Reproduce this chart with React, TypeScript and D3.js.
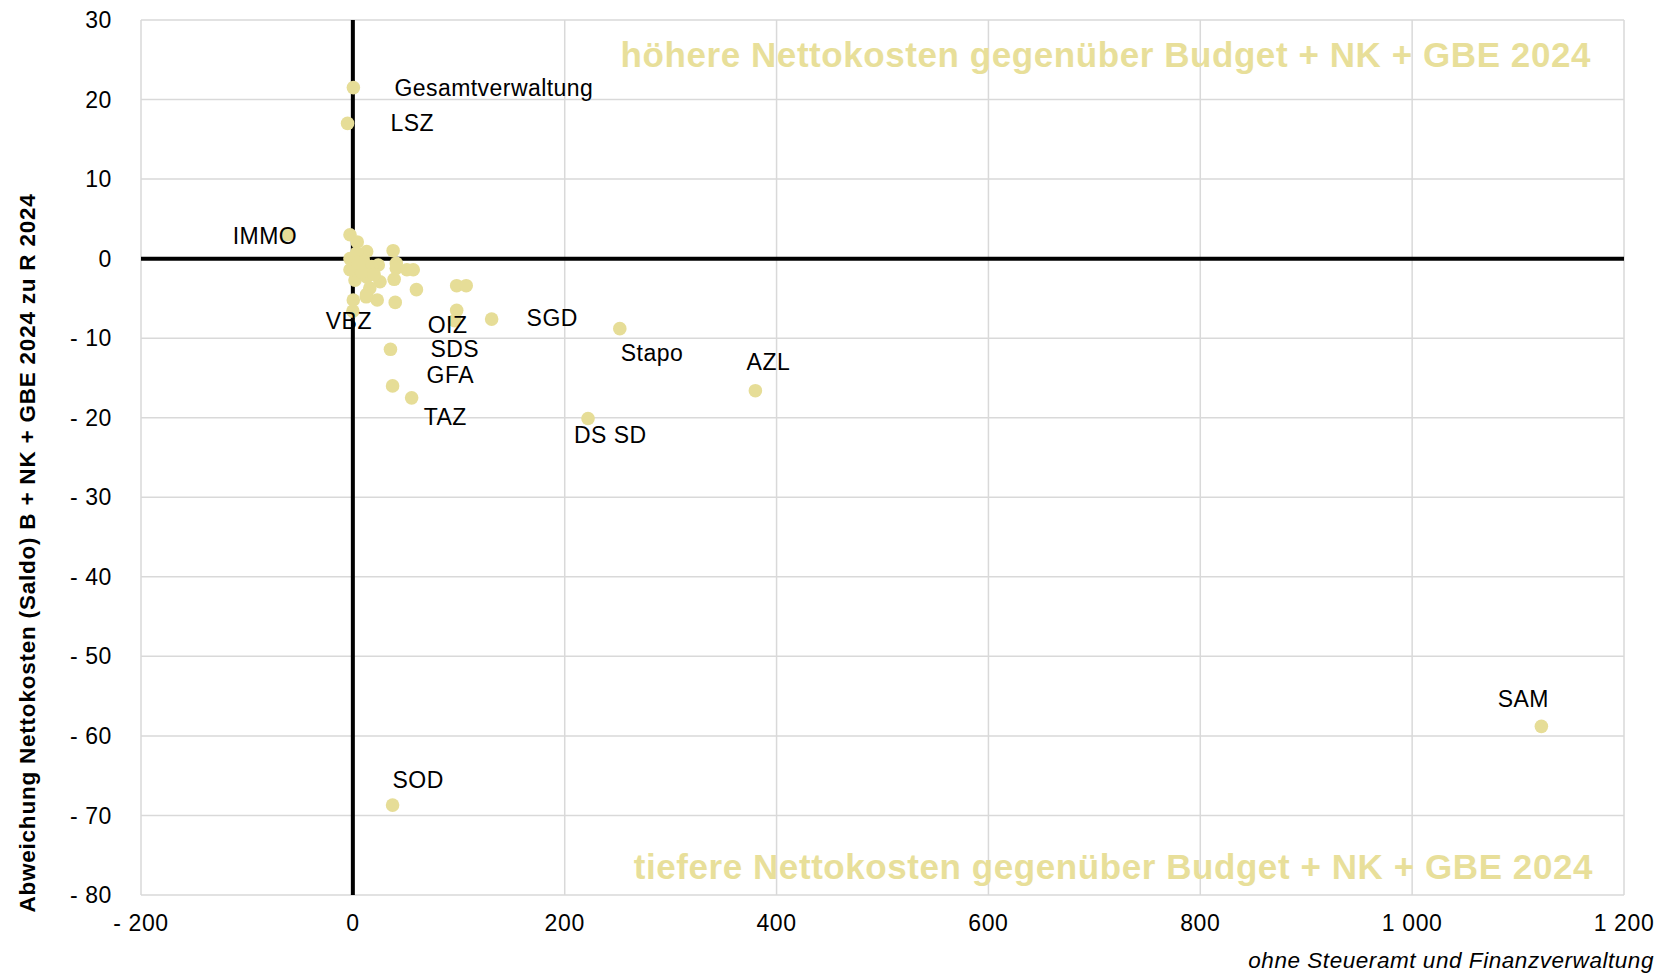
import * as d3 from 'd3';
import React from 'react';

// labelled departments (x: Nettokosten R 2024, y: Abweichung in Mio.)
const names = ['Gesamtverwaltung', 'LSZ', 'IMMO', 'VBZ', 'OIZ', 'SDS', 'GFA', 'TAZ', 'SGD', 'Stapo', 'AZL', 'DS SD', 'SAM', 'SOD'];
const namedX = [0.5, -5, -62, 0, 96, 35.5, 37.5, 55.5, 131, 252, 380, 222, 1122, 37.5];
const namedY = [21.5, 17, 3.0, -6.6, -7.8, -11.4, -16, -17.5, -7.6, -8.8, -16.6, -20.1, -58.8, -68.7];

// unlabelled points in the cluster around the origin
const otherX = [-2.7, 4.1, 13, 38, 0.4, 9.8, 24, 41, 41, 51, 57, 2, 13, 25.6, 39, 16, 13, 23, 40, 60, 98, 107, 98, 0.4, -2.7, 6.6, 17.7, -2.7, 8.2, 3.5, 12.6, 20, 5];
const otherY = [3.0, 2.1, 0.9, 1.0, -0.4, -0.2, -0.8, -0.6, -1.2, -1.4, -1.4, -2.7, -2.3, -2.9, -2.6, -3.7, -4.5, -5.2, -5.5, -3.9, -3.4, -3.4, -6.5, -5.2, 0, -1, -1, -1.4, -1.7, 0.7, -4.8, -2, -0.5];

const xTicks = [-200, 0, 200, 400, 600, 800, 1000, 1200];
const yTicks = [30, 20, 10, 0, -10, -20, -30, -40, -50, -60, -70, -80];

// label placement relative to the point (px)
const labelPos: Record<string, [number, number, string]> = {
  Gesamtverwaltung: [41, 8, 'start'],
  LSZ: [43, 8, 'start'],
  IMMO: [10, 9, 'end'],
  VBZ: [-4, 18, 'middle'],
  OIZ: [-7, 12, 'middle'],
  SDS: [40, 8, 'start'],
  GFA: [34, -3, 'start'],
  TAZ: [12, 27, 'start'],
  SGD: [35, 7, 'start'],
  Stapo: [1, 32, 'start'],
  AZL: [13, -21, 'middle'],
  'DS SD': [-14, 24, 'start'],
  SAM: [-18, -19, 'middle'],
  SOD: [0, -17, 'start'],
};

const W = 1666, H = 974;
const margin = { top: 20, right: 42, bottom: 79, left: 141 };
const dotColor = '#E6DD97';
const font = 'Arial, "Liberation Sans", sans-serif';

const fmt = (v: number) => {
  const s = d3.format(',')(Math.abs(v)).replace(/,/g, ' ');
  return v < 0 ? '- ' + s : s;
};

export default function App() {
  const x = d3.scaleLinear().domain([-200, 1200]).range([margin.left, W - margin.right]);
  const y = d3.scaleLinear().domain([30, -80]).range([margin.top, H - margin.bottom]);

  const others = otherX.map((v, i) => ({ x: v, y: otherY[i] }));
  const named = names.map((n, i) => ({ name: n, x: namedX[i], y: namedY[i] }));

  return (
    <svg width={W} height={H} style={{ position: 'absolute', left: 0, top: 0, background: '#fff' }} fontFamily={font}>
      {/* grid */}
      {xTicks.map(t => (
        <line key={'gx' + t} x1={x(t)} x2={x(t)} y1={y(30)} y2={y(-80)} stroke="#D9D9D9" strokeWidth={1.5} />
      ))}
      {yTicks.map(t => (
        <line key={'gy' + t} x1={x(-200)} x2={x(1200)} y1={y(t)} y2={y(t)} stroke="#D9D9D9" strokeWidth={1.5} />
      ))}

      {/* quadrant texts */}
      <text x={1591} y={67} textAnchor="end" fontSize={35} letterSpacing={0.57} fontWeight="bold" fill="#E8DF9A">
        höhere Nettokosten gegenüber Budget + NK + GBE 2024
      </text>
      <text x={1593} y={879} textAnchor="end" fontSize={35} letterSpacing={0.57} fontWeight="bold" fill="#E8DF9A">
        tiefere Nettokosten gegenüber Budget + NK + GBE 2024
      </text>

      {/* zero axes */}
      <line x1={x(0)} x2={x(0)} y1={y(30)} y2={y(-80)} stroke="#000" strokeWidth={4} />
      <line x1={x(-200)} x2={x(1200)} y1={y(0)} y2={y(0)} stroke="#000" strokeWidth={4} />

      {/* points */}
      {others.map((d, i) => (
        <circle key={'o' + i} cx={x(d.x)} cy={y(d.y)} r={6.8} fill={dotColor} />
      ))}
      {named.map(d => (
        <circle key={'n' + d.name} cx={x(d.x)} cy={y(d.y)} r={6.8} fill={dotColor} />
      ))}

      {/* data labels */}
      {named.map(d => {
        const [dx, dy, anchor] = labelPos[d.name];
        return (
          <text key={'l' + d.name} x={x(d.x) + dx} y={y(d.y) + dy} textAnchor={anchor as any} fontSize={23} letterSpacing={0.45} fill="#000">
            {d.name}
          </text>
        );
      })}

      {/* tick labels */}
      {yTicks.map(t => (
        <text key={'ty' + t} x={112} y={y(t)} dy="0.35em" textAnchor="end" fontSize={23} letterSpacing={0.6} fill="#000">
          {fmt(t)}
        </text>
      ))}
      {xTicks.map(t => (
        <text key={'tx' + t} x={x(t)} y={931} textAnchor="middle" fontSize={23} letterSpacing={0.6} fill="#000">
          {fmt(t)}
        </text>
      ))}

      {/* axis title */}
      <text
        transform={`translate(27,${553}) rotate(-90)`}
        textAnchor="middle"
        dominantBaseline="central"
        fontSize={22.5}
        letterSpacing={0.78}
        fontWeight="bold"
        fill="#000"
      >
        Abweichung Nettokosten (Saldo) B + NK + GBE 2024 zu R 2024
      </text>

      <text x={1654} y={968} textAnchor="end" fontSize={22.5} letterSpacing={0.55} fontStyle="italic" fill="#000">
        ohne Steueramt und Finanzverwaltung
      </text>
    </svg>
  );
}
